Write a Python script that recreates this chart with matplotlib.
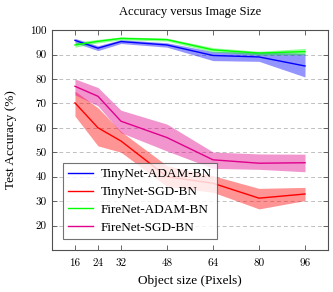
import numpy as np
import matplotlib
matplotlib.use("Agg")
import matplotlib.pyplot as plt

plt.rcParams['font.family'] = ['Liberation Serif', 'DejaVu Serif']

sizes = [16, 24, 32, 48, 64, 80, 96]

tiny_adam = [95.8, 92.6, 95.3, 93.9, 89.6, 89.0, 85.3]
tiny_adam_lo = [94.8, 91.6, 94.5, 93.0, 87.5, 87.2, 80.8]
tiny_adam_hi = [96.6, 93.6, 96.1, 94.8, 91.2, 91.0, 90.5]

tiny_sgd = [70.2, 60.0, 54.6, 40.0, 37.3, 31.2, 32.9]
tiny_sgd_lo = [64.8, 52.6, 50.0, 36.0, 33.6, 26.8, 30.2]
tiny_sgd_hi = [75.0, 68.2, 58.5, 44.5, 40.4, 35.2, 35.6]

fire_adam = [93.9, 95.4, 96.6, 96.1, 91.9, 90.6, 91.2]
fire_adam_lo = [93.0, 94.8, 96.0, 95.5, 91.0, 89.8, 89.9]
fire_adam_hi = [95.0, 96.2, 97.2, 96.7, 92.8, 91.3, 92.5]

fire_sgd = [77.0, 72.9, 62.7, 56.0, 46.9, 45.5, 45.7]
fire_sgd_lo = [73.5, 69.0, 58.0, 50.5, 43.4, 43.0, 42.0]
fire_sgd_hi = [80.0, 76.5, 67.2, 61.5, 50.1, 49.3, 49.2]

series = [
    ("TinyNet-ADAM-BN", tiny_adam, tiny_adam_lo, tiny_adam_hi, "#0000ff"),
    ("TinyNet-SGD-BN", tiny_sgd, tiny_sgd_lo, tiny_sgd_hi, "#ff0000"),
    ("FireNet-ADAM-BN", fire_adam, fire_adam_lo, fire_adam_hi, "#00ff00"),
    ("FireNet-SGD-BN", fire_sgd, fire_sgd_lo, fire_sgd_hi, "#e0008c"),
]

fig = plt.figure(figsize=(3.33, 2.92), dpi=100)
ax = fig.add_axes([0.156, 0.144, 0.829, 0.753])

for label, y, lo, hi, c in series:
    ax.fill_between(sizes, lo, hi, color=c, alpha=0.42, linewidth=0)
for label, y, lo, hi, c in series:
    ax.plot(sizes, y, color=c, linewidth=1.0, label=label)

ax.set_xlim(8, 104)
ax.set_ylim(10, 100)
ax.set_xticks(sizes)
ax.set_yticks(range(20, 101, 10))
ax.yaxis.grid(True, linestyle=(0, (4, 3)), color="#c0c0c0", linewidth=0.7)
ax.set_axisbelow(True)

for s in ax.spines.values():
    s.set_color("#505050")
    s.set_linewidth(0.8)
ax.tick_params(direction="in", top=True, right=True, length=3.5,
               color="#505050", width=0.6, labelsize=8)
ax.tick_params(axis="x", pad=6)
ax.tick_params(axis="y", pad=4)
for t in ax.get_xticklabels() + ax.get_yticklabels():
    t.set_family("cmr10")

ax.set_title("Accuracy versus Image Size", fontsize=9, pad=11)
ax.set_xlabel("Object size (Pixels)", fontsize=9.5, labelpad=5)
ax.set_ylabel("Test Accuracy (%)", fontsize=9.5, labelpad=9)

leg = ax.legend(loc="lower left", bbox_to_anchor=(0.015, 0.02), fontsize=9.5,
                frameon=True, fancybox=False, handlelength=1.9,
                borderpad=0.4, labelspacing=0.42, handletextpad=0.6)
leg.get_frame().set_edgecolor("#505050")
leg.get_frame().set_linewidth(0.8)

fig.savefig("out.png", dpi=100)
